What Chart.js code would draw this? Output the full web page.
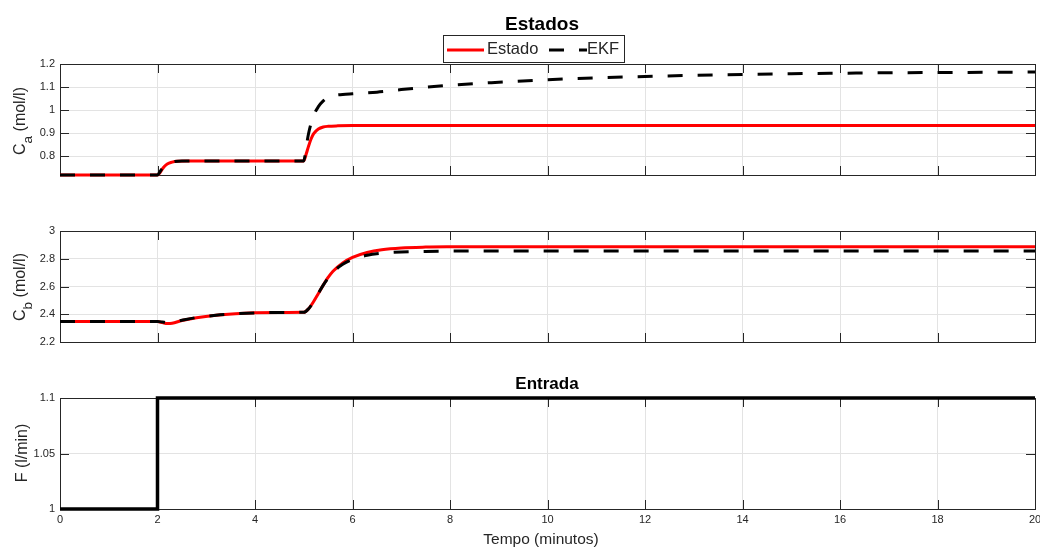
<!DOCTYPE html>
<html>
<head>
<meta charset="utf-8">
<script src="https://cdn.jsdelivr.net/npm/chart.js@4.4.0/dist/chart.umd.min.js"></script>
<style>
  html, body { margin:0; padding:0; background:#fff; }
  body { width:1040px; height:547px; position:relative; overflow:hidden;
         font-family:"Liberation Sans", Arial, Helvetica, sans-serif; color:#262626; }
  canvas { position:absolute; left:0; top:0; }
  .txt { position:absolute; white-space:nowrap; }
  .title { font-weight:bold; color:#000; transform:translate(-50%,-50%); }
  .ylab { font-size:16px; color:#262626; transform:translate(-50%,-50%) rotate(-90deg); }
  .ylab sub { font-size:0.85em; vertical-align:-0.45em; }
  #legend { position:absolute; left:443px; top:35px; width:180px; height:26px;
            border:1px solid #262626; background:#fff; font-size:16.5px; color:#262626; }
</style>
</head>
<body>
<canvas id="c1" width="1040" height="547"></canvas>
<canvas id="c2" width="1040" height="547"></canvas>
<canvas id="c3" width="1040" height="547"></canvas>

<div class="txt title" style="left:542px; top:24px; font-size:19px;">Estados</div>
<div id="legend">
  <svg width="180" height="26" style="position:absolute;left:0;top:0;">
    <line x1="3" y1="14" x2="40" y2="14" stroke="#ff0000" stroke-width="3"/>
    <line x1="105" y1="14" x2="143" y2="14" stroke="#000" stroke-width="3" stroke-dasharray="15 15"/>
  </svg>
  <span class="txt" style="left:43px; top:3px;">Estado</span>
  <span class="txt" style="left:143px; top:3px;">EKF</span>
</div>
<div class="txt title" style="left:547px; top:384px; font-size:17px;">Entrada</div>
<div class="txt ylab" style="left:23px; top:121px;">C<sub>a</sub> (mol/l)</div>
<div class="txt ylab" style="left:23px; top:287px;">C<sub>b</sub> (mol/l)</div>
<div class="txt ylab" style="left:22px; top:453px;">F (l/min)</div>
<div class="txt" style="left:541px; top:539px; font-size:15.5px; transform:translate(-50%,-50%);">Tempo (minutos)</div>

<script>
// ---------- data ----------
const xTicks = [0, 2, 4, 6, 8, 10, 12, 14, 16, 18, 20];

// Ca - estado real
const tCaEstado = [0, 2, 2.05, 2.1, 2.15, 2.2, 2.3, 2.4, 2.6, 3, 5, 5.05, 5.1, 5.15, 5.2, 5.3, 5.4, 5.5, 5.7, 6, 8, 20];
const caEstado  = [0.719, 0.719, 0.729, 0.745, 0.758, 0.767, 0.775, 0.779, 0.780, 0.780, 0.780, 0.810, 0.845, 0.875, 0.897, 0.918, 0.927, 0.930, 0.932, 0.933, 0.933, 0.933];
// Ca - EKF
const tCaEkf = [0, 2, 2.05, 2.1, 2.2, 2.3, 2.5, 3, 5, 5.05, 5.1, 5.2, 5.3, 5.4, 5.5, 5.6, 5.8, 6, 6.5, 7, 8, 9, 10, 11, 12, 13, 14, 15, 16, 17, 18, 19, 20];
const caEkf  = [0.719, 0.719, 0.733, 0.748, 0.767, 0.775, 0.780, 0.780, 0.780, 0.840, 0.900, 0.975, 1.015, 1.040, 1.055, 1.063, 1.068, 1.071, 1.078, 1.089, 1.108, 1.121, 1.132, 1.140, 1.146, 1.151, 1.155, 1.158, 1.160, 1.162, 1.163, 1.164, 1.165];
const caTicks = [0.8, 0.9, 1, 1.1, 1.2];

// Cb - estado real
const tCbEstado = [0, 2, 2.1, 2.2, 2.3, 2.5, 2.8, 3.2, 3.6, 4, 4.5, 5, 5.1, 5.2, 5.3, 5.4, 5.5, 5.6, 5.8, 6, 6.3, 6.6, 7, 7.5, 8, 9, 20];
const cbEstado  = [2.347, 2.347, 2.340, 2.333, 2.335, 2.355, 2.375, 2.393, 2.404, 2.410, 2.413, 2.414, 2.440, 2.490, 2.550, 2.610, 2.665, 2.710, 2.770, 2.810, 2.845, 2.865, 2.878, 2.884, 2.886, 2.887, 2.887];
// Cb - EKF
const tCbEkf = [0, 2, 2.1, 2.2, 2.3, 2.5, 2.8, 3.2, 3.6, 4, 4.5, 5, 5.1, 5.2, 5.3, 5.4, 5.5, 5.6, 5.8, 6, 6.3, 6.6, 7, 7.5, 8, 9, 10, 20];
const cbEkf  = [2.347, 2.347, 2.344, 2.340, 2.343, 2.357, 2.376, 2.393, 2.404, 2.410, 2.413, 2.414, 2.440, 2.490, 2.550, 2.610, 2.660, 2.703, 2.760, 2.795, 2.825, 2.840, 2.849, 2.853, 2.855, 2.856, 2.856, 2.856];
const cbTicks = [2.2, 2.4, 2.6, 2.8, 3];

// F - entrada
const tF = [0, 2, 2, 20];
const fVal = [1, 1, 1.1, 1.1];
const fTicks = [1, 1.05, 1.1];

// ---------- helpers ----------
const pts = (t, v) => t.map((x, i) => ({x: x, y: v[i]}));
const FONT = '"Liberation Sans", Arial, Helvetica, sans-serif';
const AXC = '#262626';
const GRIDC = '#e3e3e3';

const framePlugin = {
  id: 'frame',
  beforeDatasetsDraw(chart) {
    const {ctx, chartArea: a, scales} = chart;
    const x = scales.x, y = scales.y, L = 9;
    ctx.save();
    ctx.strokeStyle = AXC;
    ctx.lineWidth = 1;
    ctx.beginPath();
    xTicks.forEach(v => {
      const p = Math.round(x.getPixelForValue(v)) + 0.5;
      ctx.moveTo(p, a.bottom); ctx.lineTo(p, a.bottom - L);
      ctx.moveTo(p, a.top); ctx.lineTo(p, a.top + L);
    });
    chart.options.yTickList.forEach(v => {
      const p = Math.round(y.getPixelForValue(v)) + 0.5;
      ctx.moveTo(a.left, p); ctx.lineTo(a.left + L, p);
      ctx.moveTo(a.right, p); ctx.lineTo(a.right - L, p);
    });
    ctx.stroke();
    ctx.strokeRect(Math.round(a.left) + 0.5, Math.round(a.top) + 0.5,
                   Math.round(a.right - a.left), Math.round(a.bottom - a.top));
    ctx.restore();
  }
};

function fmt(v) { return String(Number(v.toFixed(3))); }

function makeChart(id, datasets, yMin, yMax, yTickList, top, bottom, showX) {
  const xH = showX ? 22 : 0;
  return new Chart(document.getElementById(id), {
    type: 'line',
    data: { datasets: datasets },
    options: {
      responsive: false,
      animation: false,
      devicePixelRatio: 1,
      yTickList: yTickList,
      layout: { padding: { left: 0, right: 5, top: top, bottom: 547 - bottom - xH } },
      plugins: { legend: { display: false }, tooltip: { enabled: false }, title: { display: false } },
      elements: { point: { radius: 0 } },
      scales: {
        x: {
          type: 'linear', min: 0, max: 20,
          afterBuildTicks: s => { s.ticks = xTicks.map(v => ({value: v})); },
          afterFit: s => { s.height = xH; s.paddingLeft = 0; s.paddingRight = 0; },
          grid: { color: GRIDC, lineWidth: 1, drawTicks: false },
          border: { display: false },
          ticks: { display: showX, padding: 4, color: AXC, maxRotation: 0, autoSkip: false,
                   font: { family: FONT, size: 11 }, callback: v => fmt(v) }
        },
        y: {
          type: 'linear', min: yMin, max: yMax,
          afterBuildTicks: s => { s.ticks = yTickList.map(v => ({value: v})); },
          afterFit: s => { s.width = 60; s.paddingTop = 0; s.paddingBottom = 0; },
          grid: { color: GRIDC, lineWidth: 1, drawTicks: false },
          border: { display: false },
          ticks: { padding: 5, color: AXC, autoSkip: false,
                   font: { family: FONT, size: 11 }, callback: v => fmt(v) }
        }
      }
    },
    plugins: [framePlugin]
  });
}

function estadoDs(t, v) {
  return { label: 'Estado', data: pts(t, v), borderColor: '#ff0000', borderWidth: 3,
           cubicInterpolationMode: 'monotone', clip: false, order: 1 };
}
function ekfDs(t, v) {
  return { label: 'EKF', data: pts(t, v), borderColor: '#000000', borderWidth: 3,
           borderDash: [15, 15], cubicInterpolationMode: 'monotone', clip: false, order: 0 };
}

makeChart('c1', [estadoDs(tCaEstado, caEstado), ekfDs(tCaEkf, caEkf)], 0.719, 1.2, caTicks, 64, 175, false);
makeChart('c2', [estadoDs(tCbEstado, cbEstado), ekfDs(tCbEkf, cbEkf)], 2.2, 3, cbTicks, 231, 342, false);
makeChart('c3', [{ label: 'F', data: pts(tF, fVal), borderColor: '#000000', borderWidth: 3.5,
                   tension: 0, clip: false }], 1, 1.1, fTicks, 398, 509, true);
</script>
</body>
</html>
